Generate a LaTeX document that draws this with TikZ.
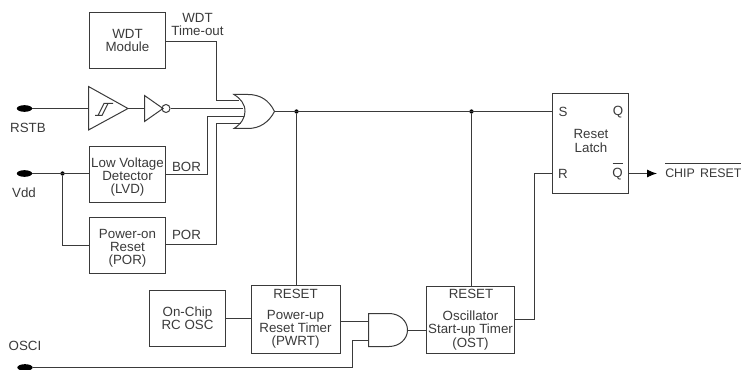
\documentclass[tikz,border=0pt]{standalone}
\usepackage{fontspec}
\setmainfont{Liberation Sans}
\usetikzlibrary{shapes.geometric,arrows.meta}
\definecolor{ink}{HTML}{3A3A3A}
\tikzset{
  wire/.style={draw=ink,line width=0.75pt,line join=miter},
  blockbox/.style={draw=ink,line width=0.75pt,inner sep=0pt,outer sep=0pt,anchor=north west},
  lbl/.style={text=ink,font=\fontsize{10}{9.9}\selectfont,inner sep=0pt,align=center},
  pin/.style={ellipse,fill=black,draw=none,minimum width=11.5pt,minimum height=5pt,inner sep=0pt},
  junction/.style={circle,fill=black,draw=none,minimum size=3.2pt,inner sep=0pt}
}
\newcommand{\pxbox}[6]{\node[blockbox,minimum width=#4*0.75pt,minimum height=#5*0.75pt] (#1) at (#2,#3) {};\node[lbl] (#1t) at (#2+#4/2,#3+#5/2) {#6};}
\begin{document}
\begin{tikzpicture}[x=0.75pt,y=-0.75pt]
\useasboundingbox (0,0) rectangle (741,370);
% blocks
\pxbox{wdt}{89.5}{12.5}{76}{56}{WDT\\Module}
\pxbox{lvd}{89.5}{146.5}{76}{56}{}
\pxbox{por}{89.5}{217.5}{76}{56}{}
\pxbox{rc}{149.5}{290.5}{76}{56}{On-Chip\\RC OSC}
\pxbox{pwrt}{251.5}{285.5}{89}{68}{}
\pxbox{ost}{426.5}{286.5}{88}{67}{}
\pxbox{latch}{552.5}{93.5}{76}{100}{}
\node[lbl] (lvdt) at (127.5,177) {Low Voltage\\Detector\\(LVD)};
\node[lbl] (port) at (127.5,248) {Power-on\\Reset\\(POR)};
\node[lbl] (pwrtr) at (295.5,294) {RESET};
\node[lbl] (pwrtt) at (295.5,329.5) {Power-up\\Reset Timer\\(PWRT)};
\node[lbl] (ostr) at (471,294) {RESET};
\node[lbl] (ostt) at (470.5,330.5) {Oscillator\\Start-up Timer\\(OST)};
\node[lbl] (ls) at (563,112) {S};
\node[lbl] (lq) at (618,112) {Q};
\node[lbl] (lc) at (591,141) {Reset\\Latch};
\node[lbl] (lr) at (563,174) {R};
\node[lbl] (lqb) at (617.5,174) {Q};
\draw[wire] (612.5,163.5) -- (622.5,163.5);
% terminals
\node[pin] (rstb) at (24.5,108.5) {};
\node[pin] (vdd) at (24.5,173.5) {};
\node[pin] (osci) at (25,367.5) {};
\node[lbl] (rstbt) at (28,128) {RSTB};
\node[lbl] (vddt) at (24,193) {Vdd};
\node[lbl] (oscit) at (25,346) {OSCI};
\node[lbl] (wdtt) at (197.5,24.5) {WDT\\Time-out};
\node[lbl] (bort) at (186.5,167) {BOR};
\node[lbl] (port2) at (186.5,235) {POR};
% schmitt buffer
\draw[wire] (88.5,86.5) -- (128,108.5) -- (88.5,130) -- cycle;
\draw[wire] (95,115.5) -- (102,115.5) -- (108,103.5) -- (113,103.5) (98,115.5) -- (104,103.5) -- (108,103.5);
% inverter
\draw[wire] (144.5,95.5) -- (163,108.5) -- (144.5,121.5) -- cycle;
\node[circle,draw=ink,line width=0.75pt,minimum size=6pt,inner sep=0pt] (inv) at (166,108.5) {};
% OR gate
\draw[wire] (234,94.5) .. controls (241,99) and (245,104) .. (245,111.5) .. controls (245,118) and (241,124) .. (234,128.5)
  -- (248,128.5) .. controls (260,128.5) and (269,122) .. (274.5,111.5) .. controls (269,100) and (260,94.5) .. (248,94.5) -- cycle;
% AND gate
\draw[wire] (368.5,313.5) -- (389,313.5) .. controls (399.5,313.5) and (407.5,321) .. (407.5,330) .. controls (407.5,339) and (399.5,346.5) .. (389,346.5) -- (368.5,346.5) -- cycle;
% connector coordinates
\coordinate (orout) at (274.5,111.5);
\coordinate (or1) at (239,100.5);
\coordinate (or2) at (243,108.5);
\coordinate (or3) at (243.5,116.5);
\coordinate (or4) at (241,123.5);
\coordinate (and1) at (368.5,321.5);
\coordinate (and2) at (368.5,340.5);
\coordinate (andout) at (407.5,330.5);
\node[junction] (j1) at (296.5,111.5) {};
\node[junction] (j2) at (471.5,111.5) {};
\node[junction] (j3) at (62.5,173.5) {};
\coordinate (chip) at (657,173.5);
% connectors
\draw[wire] (rstb) -- (88.5,108.5);
\draw[wire] (128,108.5) -- (144.5,108.5);
\draw[wire] (inv.east) -- (or2);
\draw[wire] (wdt.east |- 0,41.5) -- (216.5,41.5) -- (216.5,100.5) -- (or1);
\draw[wire] (lvd.east |- 0,174.5) -- (207.5,174.5) -- (207.5,116.5) -- (or3);
\draw[wire] (por.east |- 0,244.5) -- (216.5,244.5) -- (216.5,123.5) -- (or4);
\draw[wire] (orout) -- (latch.west |- orout);
\draw[wire] (j1) -- (pwrt.north -| j1);
\draw[wire] (j2) -- (ost.north -| j2);
\draw[wire] (vdd) -- (lvd.west |- vdd);
\draw[wire] (j3) -- (62.5,245.5) -- (por.west |- 0,245.5);
\draw[wire] (rc.east |- 0,318.5) -- (pwrt.west |- 0,318.5);
\draw[wire] (pwrt.east |- and1) -- (and1);
\draw[wire] (and2) -- (352.5,340.5) -- (352.5,367.5) -- (osci);
\draw[wire] (andout) -- (ost.west |- andout);
\draw[wire] (ost.east |- 0,319.5) -- (534.5,319.5) -- (534.5,173.5) -- (latch.west |- 0,173.5);
\draw[wire] (latch.east |- chip) -- (650,173.5);
\draw[wire,draw=black,-{Latex[length=7.5pt,width=6pt]}] (650,173.5) -- (chip);
% output label
\node[lbl,anchor=base west,font=\fontsize{9.3}{9.9}\selectfont] (chipt) at (665,178) {CHIP\hspace{0.15em} RESET};
\draw[wire] (chipt.west |- 0,163.5) -- (741,163.5);
\end{tikzpicture}
\end{document}
